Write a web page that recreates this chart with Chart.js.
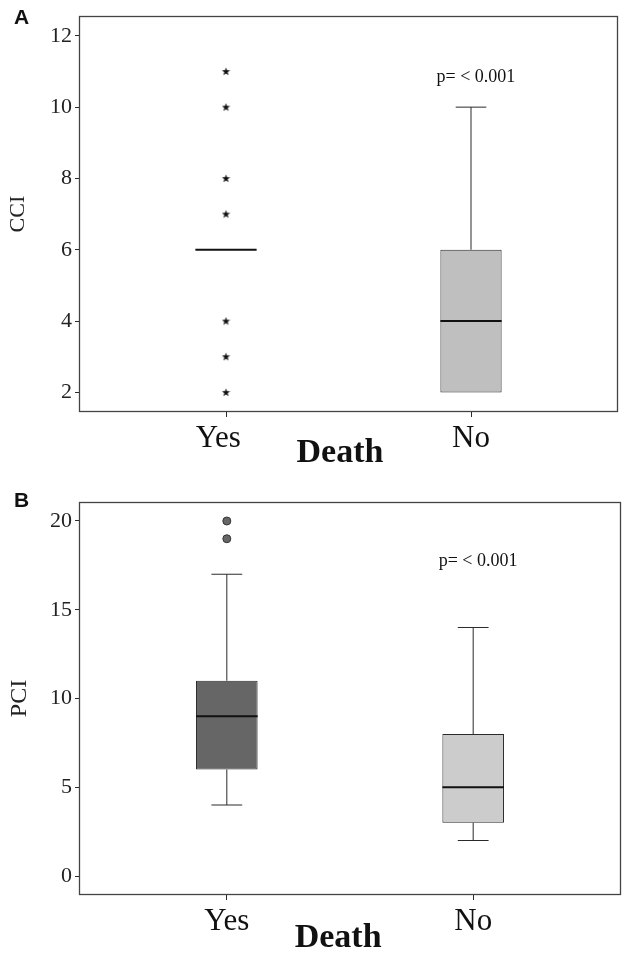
<!DOCTYPE html>
<html><head><meta charset="utf-8">
<script src="https://cdn.jsdelivr.net/npm/chart.js@4.4.0/dist/chart.umd.min.js"></script>
<style>
html,body{margin:0;padding:0;background:#fff;}
#wrap{position:relative;width:630px;height:955px;overflow:hidden;}
.panel{position:absolute;left:0;width:630px;}
#pa{top:0;height:478px;}
#pb{top:478px;height:477px;}
.lbl{position:absolute;font:bold 21px "Liberation Sans",Arial,sans-serif;color:#111;line-height:24px;}
</style></head><body>
<div id="wrap">
<div class="panel" id="pa"><canvas id="ca"></canvas></div>
<div class="panel" id="pb"><canvas id="cb"></canvas></div>
<div class="lbl" style="left:14px;top:5px">A</div>
<div class="lbl" style="left:14px;top:488px">B</div>
</div>
<script>
// ---- data ----
const categories = ['Yes', 'No'];

const cciQ1 = [6, 2];
const cciMedian = [6, 4];
const cciQ3 = [6, 6];
const cciLow = [6, 2];
const cciHigh = [6, 10];
const cciOutliers = [[2, 3, 4, 7, 8, 10, 11], []];
const cciTicks = [2, 4, 6, 8, 10, 12];
const cciFill = ['#bfbfbf', '#bfbfbf'];

const pciQ1 = [6, 3];
const pciMedian = [9, 5];
const pciQ3 = [11, 8];
const pciLow = [4, 2];
const pciHigh = [17, 14];
const pciOutliers = [[19, 20], []];
const pciTicks = [0, 5, 10, 15, 20];
const pciFill = ['#666666', '#cccccc'];

const pText = 'p= < 0.001';
// ---------------

const SERIF = '"Liberation Serif", "Times New Roman", serif';
const INK = '#2a2a2a';

function starCanvas() {
  const c = document.createElement('canvas');
  c.width = 9; c.height = 9;
  const g = c.getContext('2d');
  g.fillStyle = '#111';
  g.beginPath();
  for (let i = 0; i < 10; i++) {
    const r = i % 2 === 0 ? 4.3 : 1.8;
    const a = -Math.PI / 2 + i * Math.PI / 5;
    const px = 4.5 + r * Math.cos(a), py = 4.7 + r * Math.sin(a);
    if (i === 0) g.moveTo(px, py); else g.lineTo(px, py);
  }
  g.closePath();
  g.fill();
  return c;
}

const boxPlugin = {
  id: 'boxDraw',
  afterDatasetsDraw(chart, args, o) {
    const ctx = chart.ctx, xs = chart.scales.x, ys = chart.scales.y;
    const meta = chart.getDatasetMeta(0);
    ctx.save();
    categories.forEach((c, i) => {
      const bar = meta.data[i];
      const w = bar.width;
      const cx = xs.getPixelForValue(i + 1);
      ctx.strokeStyle = INK; ctx.lineWidth = 1;
      const segs = [];
      if (o.hi[i] > o.q3[i]) segs.push([o.q3[i], o.hi[i]]);
      if (o.lo[i] < o.q1[i]) segs.push([o.q1[i], o.lo[i]]);
      segs.forEach(([a, b]) => {
        ctx.beginPath();
        ctx.moveTo(cx, ys.getPixelForValue(a));
        ctx.lineTo(cx, ys.getPixelForValue(b));
        ctx.moveTo(cx - w / 4, ys.getPixelForValue(b));
        ctx.lineTo(cx + w / 4, ys.getPixelForValue(b));
        ctx.stroke();
      });
      ctx.strokeStyle = '#111'; ctx.lineWidth = 2;
      const my = ys.getPixelForValue(o.med[i]);
      ctx.beginPath();
      ctx.moveTo(cx - w / 2, my); ctx.lineTo(cx + w / 2, my);
      ctx.stroke();
    });
    ctx.fillStyle = '#111';
    ctx.font = '18px ' + SERIF;
    ctx.textAlign = 'center';
    ctx.textBaseline = 'middle';
    ctx.fillText(pText, xs.getPixelForValue(o.noteX), ys.getPixelForValue(o.noteY));
    ctx.restore();
  },
  afterDraw(chart) {
    const a = chart.chartArea, ctx = chart.ctx;
    ctx.save();
    ctx.strokeStyle = '#444'; ctx.lineWidth = 1.3;
    ctx.strokeRect(Math.round(a.left) + 0.5, Math.round(a.top) + 0.5,
      Math.round(a.right - a.left) - 1, Math.round(a.bottom - a.top) - 1);
    ctx.restore();
  }
};

function makeChart(id, cfg) {
  const boxes = categories.map((c, i) => ({ x: i + 1, y: [cfg.q1[i], cfg.q3[i]] }));
  const outs = [];
  cfg.outliers.forEach((arr, i) => arr.forEach(v => outs.push({ x: i + 1, y: v })));
  return new Chart(document.getElementById(id), {
    type: 'bar',
    data: {
      datasets: [
        {
          type: 'bar', data: boxes,
          backgroundColor: cfg.fill, borderColor: INK, borderWidth: 1,
          borderSkipped: false, categoryPercentage: 1, barPercentage: 0.25
        },
        {
          type: 'scatter', data: outs,
          pointStyle: cfg.pointStyle, pointRadius: cfg.pointRadius,
          backgroundColor: '#666', borderColor: '#333', borderWidth: 1
        }
      ]
    },
    options: {
      responsive: true, maintainAspectRatio: false, animation: false,
      layout: { padding: { top: cfg.padTop, right: cfg.padRight, left: 0, bottom: 0 } },
      plugins: {
        legend: { display: false }, tooltip: { enabled: false },
        boxDraw: { q1: cfg.q1, q3: cfg.q3, med: cfg.med, lo: cfg.lo, hi: cfg.hi, noteX: 2.02, noteY: cfg.noteY }
      },
      scales: {
        x: {
          type: 'linear', min: 0.4, max: 2.6, offset: false,
          afterBuildTicks: s => { s.ticks = categories.map((c, i) => ({ value: i + 1 })); },
          afterFit: s => { s.height = cfg.xHeight; },
          grid: { display: true, offset: false, drawOnChartArea: false, drawTicks: true, tickLength: 5, color: INK },
          border: { display: false },
          ticks: {
            autoSkip: false, maxRotation: 0, padding: 3, color: '#111',
            font: { family: SERIF, size: 31 },
            callback: v => categories[v - 1] + (v === 1 ? cfg.yesPad : '')
          },
          title: {
            display: true, text: 'Death' + cfg.titleShift, color: '#111',
            font: { family: SERIF, size: 34, weight: 'bold', lineHeight: 1 },
            padding: { top: 0, bottom: cfg.titlePad }
          }
        },
        y: {
          type: 'linear', min: cfg.min, max: cfg.max,
          afterBuildTicks: s => { s.ticks = cfg.ticks.map(v => ({ value: v })); },
          afterFit: s => { s.width = 79; },
          grid: { display: true, drawOnChartArea: false, drawTicks: true, tickLength: 4, color: INK },
          border: { display: false },
          ticks: { padding: 3, color: '#222', font: { family: SERIF, size: 22 } },
          title: {
            display: true, text: cfg.title, color: '#222',
            font: { family: SERIF, size: cfg.titleSize },
            padding: { top: 5, bottom: 0 }
          }
        }
      }
    },
    plugins: [boxPlugin]
  });
}

makeChart('ca', {
  q1: cciQ1, q3: cciQ3, med: cciMedian, lo: cciLow, hi: cciHigh, outliers: cciOutliers,
  fill: cciFill, ticks: cciTicks, min: 1.45, max: 12.55, title: 'CCI', titleSize: 22,
  pointStyle: starCanvas(), pointRadius: 4, noteY: 10.85,
  padTop: 16, padRight: 12, xHeight: 66, titlePad: 8,
  yesPad: '\u2002', titleShift: '\u2002'
});
makeChart('cb', {
  q1: pciQ1, q3: pciQ3, med: pciMedian, lo: pciLow, hi: pciHigh, outliers: pciOutliers,
  fill: pciFill, ticks: pciTicks, min: -1.07, max: 21.07, title: 'PCI', titleSize: 24,
  pointStyle: 'circle', pointRadius: 4, noteY: 17.75,
  padTop: 24, padRight: 9, xHeight: 60, titlePad: 0,
  yesPad: '', titleShift: '\u2002\u2009'
});
</script>
</body></html>
